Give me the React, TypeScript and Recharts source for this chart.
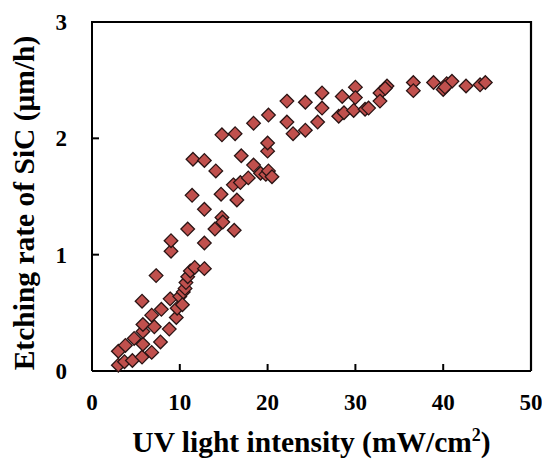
import React from "react";
import { ScatterChart, Scatter, XAxis, YAxis } from "recharts";

const intensity = [
  3.0, 3.0, 3.7, 3.8, 4.6, 4.8, 5.7, 5.8, 5.8, 5.8, 5.7, 6.8, 6.8, 7.1, 7.3, 7.8, 7.9, 8.8, 8.9, 9.0,
  9.0, 9.6, 9.7, 10.0, 10.3, 10.4, 10.6, 10.7, 10.9, 10.9, 11.2, 11.7, 12.8, 12.8, 12.8, 11.4, 11.5, 12.8, 14.1, 14.0,
  14.8, 14.9, 14.7, 14.8, 16.2, 16.5, 16.1, 16.9, 16.3, 17.0, 17.8, 18.4, 18.4, 19.2, 19.8, 20.0, 20.0, 20.1, 20.5, 20.1,
  22.2, 22.2, 22.9, 24.3, 24.3, 25.7, 26.2, 26.2, 28.1, 28.5, 28.7, 29.8, 30.0, 30.0, 31.1, 31.5, 32.8, 32.8, 33.6, 33.4,
  36.6, 36.6, 38.9, 40.0, 40.4, 41.0, 40.2, 42.6, 44.2, 44.8,
];
const etchRate = [
  0.05, 0.17, 0.08, 0.22, 0.09, 0.28, 0.12, 0.23, 0.34, 0.40, 0.60, 0.16, 0.48, 0.38, 0.82, 0.25, 0.53, 0.36, 0.62, 1.03,
  1.12, 0.46, 0.54, 0.64, 0.57, 0.68, 0.71, 0.76, 0.81, 1.22, 0.86, 0.89, 0.88, 1.10, 1.39, 1.51, 1.82, 1.81, 1.72, 1.22,
  1.32, 1.28, 1.52, 2.03, 1.21, 1.47, 1.60, 1.62, 2.04, 1.85, 1.66, 1.77, 2.13, 1.70, 1.69, 1.89, 1.96, 1.72, 1.67, 2.20,
  2.32, 2.14, 2.04, 2.31, 2.07, 2.14, 2.39, 2.26, 2.19, 2.36, 2.22, 2.24, 2.44, 2.35, 2.25, 2.26, 2.39, 2.32, 2.45, 2.43,
  2.48, 2.41, 2.48, 2.42, 2.47, 2.49, 2.44, 2.45, 2.46, 2.48,
];
const xTicks = [0, 10, 20, 30, 40, 50];
const yTicks = [0, 1, 2, 3];
const xTitle = "UV light intensity (mW/cm";
const yTitle = "Etching rate of SiC (μm/h)";

const data = intensity.map((x, i) => ({ x, y: etchRate[i] }));

const FONT = "'Liberation Serif', 'Times New Roman', serif";
const CHART_W = 542;
const CHART_H = 456;
const MARGIN = { top: 14, right: 19, bottom: 0, left: 0 };
const Y_AXIS_W = 84;
const X_AXIS_H = 93;
const PLOT_W = CHART_W - MARGIN.left - MARGIN.right - Y_AXIS_W;
const PLOT_H = CHART_H - MARGIN.top - MARGIN.bottom - X_AXIS_H;
const X_MARGIN = 23;
const Y_MARGIN = 25;
const TICK_LEN = 7;

const XTick = (props: any) => {
  const { x, y, payload } = props;
  const axisY = y - X_MARGIN;
  return (
    <g>
      <path d={`M${x},${axisY}V${axisY - TICK_LEN}`} stroke="#000" strokeWidth={2} fill="none" />
      <text x={x} y={y} dy="0.71em" textAnchor="middle" fontFamily={FONT} fontWeight="bold" fontSize={23} fill="#000">
        {payload.value}
      </text>
    </g>
  );
};

const YTick = (props: any) => {
  const { x, y, payload } = props;
  const axisX = x + Y_MARGIN;
  return (
    <g>
      <path d={`M${axisX},${y}H${axisX + TICK_LEN}`} stroke="#000" strokeWidth={2} fill="none" />
      <text x={x} y={y} dy="0.35em" textAnchor="end" fontFamily={FONT} fontWeight="bold" fontSize={23} fill="#000">
        {payload.value}
      </text>
    </g>
  );
};

const Diamond = (props: any) => {
  const { cx, cy } = props;
  const r = 6.8;
  return (
    <path
      d={`M${cx},${cy - r}L${cx + r},${cy}L${cx},${cy + r}L${cx - r},${cy}Z`}
      fill="#C0504D"
      stroke="#2a1414"
      strokeWidth={1.3}
    />
  );
};

const YTitle = (props: any) => {
  const vb = props.viewBox || { x: 0, y: MARGIN.top, width: Y_AXIS_W, height: PLOT_H };
  const left = vb.x + vb.width;
  const top = vb.y;
  const right = left + PLOT_W;
  const bottom = top + vb.height;
  return (
    <g>
      <path d={`M${left - 1},${top}H${right}V${bottom}`} stroke="#000" strokeWidth={2.2} fill="none" />
      <text
        x={26}
        y={195}
        transform="rotate(-90, 26, 195)"
        textAnchor="middle"
        fontFamily={FONT}
        fontWeight="bold"
        fontSize={29.5}
        fill="#000"
      >
        {yTitle}
      </text>
    </g>
  );
};

export default function App() {
  return (
    <div style={{ width: CHART_W, height: CHART_H }}>
      <ScatterChart width={CHART_W} height={CHART_H} margin={MARGIN}>
        <XAxis
          xAxisId="b"
          type="number"
          dataKey="x"
          domain={[0, 50]}
          ticks={xTicks}
          tickSize={0}
          tickMargin={X_MARGIN}
          tick={<XTick />}
          tickLine={false}
          axisLine={{ stroke: "#000", strokeWidth: 2 }}
          height={X_AXIS_H}
          interval={0}
          label={{
            content: () => (
              <text x={303.5} y={444} textAnchor="middle" fontFamily={FONT} fontWeight="bold" fontSize={29.5} fill="#000">
                {xTitle}
                <tspan fontSize={18} dy={-11}>2</tspan>
                <tspan dy={11}>)</tspan>
              </text>
            ),
          }}
        />
        <YAxis
          yAxisId="l"
          type="number"
          dataKey="y"
          domain={[0, 3]}
          ticks={yTicks}
          tickSize={0}
          tickMargin={Y_MARGIN}
          tick={<YTick />}
          tickLine={false}
          axisLine={{ stroke: "#000", strokeWidth: 2 }}
          width={Y_AXIS_W}
          interval={0}
          label={{ content: (p: any) => <YTitle {...p} /> }}
        />
        <Scatter data={data} xAxisId="b" yAxisId="l" shape={<Diamond />} isAnimationActive={false} />
      </ScatterChart>
    </div>
  );
}
